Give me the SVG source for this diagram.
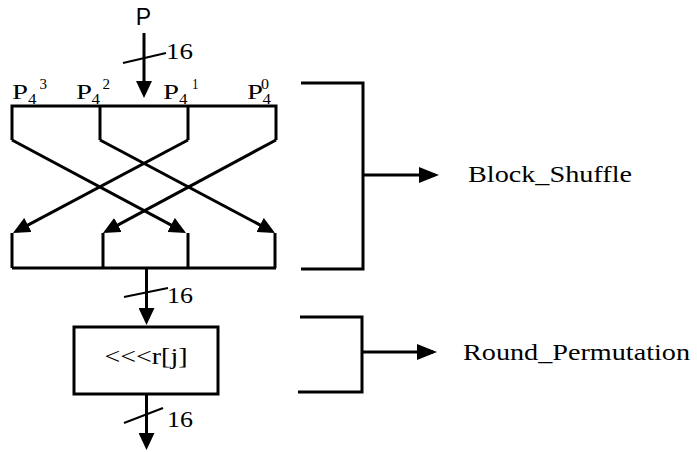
<svg xmlns="http://www.w3.org/2000/svg" width="697" height="452" viewBox="0 0 697 452">
<style>
.ln{fill:none;stroke:#000;stroke-width:3;stroke-linejoin:miter}
.sl{fill:none;stroke:#000;stroke-width:2}
.t{font-family:"Liberation Serif","Times New Roman",serif;fill:#000}
.s{font-family:"Liberation Sans",Arial,sans-serif;fill:#000}
</style>
<defs>
<marker id="ah" markerUnits="userSpaceOnUse" markerWidth="17" markerHeight="16" refX="13" refY="8" orient="auto">
<path d="M0,0 L17,8 L0,16 z" fill="#000"/>
</marker>
<marker id="ahb" markerUnits="userSpaceOnUse" markerWidth="20" markerHeight="16" refX="16" refY="8" orient="auto">
<path d="M0,0 L20,8 L0,16 z" fill="#000"/>
</marker>
</defs>
<rect width="697" height="452" fill="#fff"/>

<g id="input">
<text class="s" x="143.5" y="25" font-size="23" text-anchor="middle">P</text>
</g>

<g id="shuffle">
<g id="labels">
<text class="t" x="12" y="99" font-size="22" textLength="16" lengthAdjust="spacingAndGlyphs">P</text>
<text class="t" x="28" y="104" font-size="15" textLength="8.5" lengthAdjust="spacingAndGlyphs">4</text>
<text class="t" x="39.5" y="89" font-size="15" textLength="7.5" lengthAdjust="spacingAndGlyphs">3</text>
<text class="t" x="76" y="99" font-size="22" textLength="16" lengthAdjust="spacingAndGlyphs">P</text>
<text class="t" x="91.5" y="104" font-size="15" textLength="8.5" lengthAdjust="spacingAndGlyphs">4</text>
<text class="t" x="102.5" y="89" font-size="15" textLength="7.5" lengthAdjust="spacingAndGlyphs">2</text>
<text class="t" x="163" y="99" font-size="22" textLength="16" lengthAdjust="spacingAndGlyphs">P</text>
<text class="t" x="179" y="104" font-size="15" textLength="8.5" lengthAdjust="spacingAndGlyphs">4</text>
<text class="t" x="192" y="89" font-size="15" textLength="6.5" lengthAdjust="spacingAndGlyphs">1</text>
<text class="t" x="247" y="99" font-size="22" textLength="16" lengthAdjust="spacingAndGlyphs">P</text>
<text class="t" x="262.5" y="104" font-size="15" textLength="8.5" lengthAdjust="spacingAndGlyphs">4</text>
<text class="t" x="261" y="89" font-size="15" textLength="8" lengthAdjust="spacingAndGlyphs">0</text>
</g>
<path class="ln" d="M12,140 V106 H276 V140 M100,106 V140 M188,106 V140"/>
<path class="ln" d="M12,268 V233 M103,268 V233 M188,268 V233 M275,268 V233 M12,268 H276"/>
</g>

<g id="rotate">
<rect x="74" y="327" width="144" height="67" fill="#fff" stroke="#000" stroke-width="3"/>
<text class="t" x="146" y="364" font-size="24" text-anchor="middle" textLength="83" lengthAdjust="spacingAndGlyphs">&lt;&lt;&lt;r[j]</text>
</g>

<g id="block_shuffle_label">
<path class="ln" d="M301,83 H363 V269 H301"/>
<text class="t" x="468" y="182" font-size="24" textLength="164" lengthAdjust="spacingAndGlyphs">Block_Shuffle</text>
</g>

<g id="round_permutation_label">
<path class="ln" d="M300,317 H362 V392 H298"/>
<text class="t" x="463" y="360" font-size="24" textLength="227" lengthAdjust="spacingAndGlyphs">Round_Permutation</text>
</g>

<g id="connectors">
<path class="ln" d="M144,33 V94" marker-end="url(#ah)"/>
<line class="sl" x1="123" y1="63" x2="166" y2="53"/>
<text class="t" x="166" y="59" font-size="24" textLength="27" lengthAdjust="spacingAndGlyphs">16</text>

<path class="ln" d="M12,140 L182.5,231.1" marker-end="url(#ah)"/>
<path class="ln" d="M100,140 L271.5,231.1" marker-end="url(#ah)"/>
<path class="ln" d="M188,140 L16.5,231.1" marker-end="url(#ah)"/>
<path class="ln" d="M276,140 L106.5,231.1" marker-end="url(#ah)"/>

<path class="ln" d="M146.5,268 V321" marker-end="url(#ah)"/>
<line class="sl" x1="124" y1="297" x2="168" y2="288"/>
<text class="t" x="167" y="303" font-size="24" textLength="26" lengthAdjust="spacingAndGlyphs">16</text>

<path class="ln" d="M146.5,394 V446" marker-end="url(#ah)"/>
<line class="sl" x1="124" y1="423" x2="163" y2="408"/>
<text class="t" x="167" y="427" font-size="24" textLength="26" lengthAdjust="spacingAndGlyphs">16</text>

<path class="ln" d="M363,175 H435" marker-end="url(#ahb)"/>
<path class="ln" d="M362,352 H433" marker-end="url(#ahb)"/>
</g>
</svg>
